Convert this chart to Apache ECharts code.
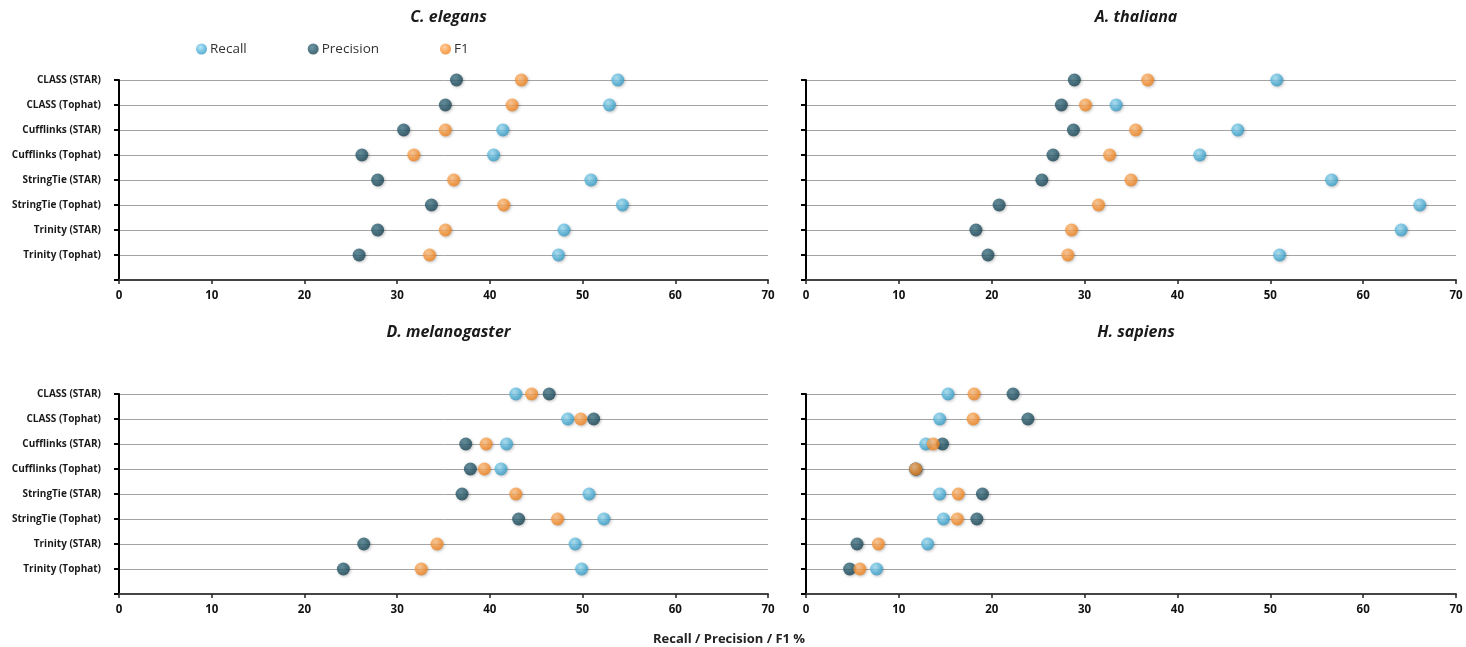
<!DOCTYPE html>
<html>
<head>
<meta charset="utf-8">
<script src="https://cdn.jsdelivr.net/npm/echarts@6/dist/echarts.min.js"></script>
<style>
html,body{margin:0;padding:0;background:#fff;}
#chart{width:1466px;height:647px;}
</style>
</head>
<body>
<div id="chart"></div>
<script>
const categories = ['CLASS (STAR)','CLASS (Tophat)','Cufflinks (STAR)','Cufflinks (Tophat)','StringTie (STAR)','StringTie (Tophat)','Trinity (STAR)','Trinity (Tophat)'];
const panelTitles = ['C. elegans','A. thaliana','D. melanogaster','H. sapiens'];
const xTicks = [0,10,20,30,40,50,60,70];

const celegansRecall    = [53.8,52.9,41.4,40.4,50.9,54.3,48.0,47.4];
const celegansPrecision = [36.4,35.2,30.7,26.2,27.9,33.7,27.9,25.9];
const celegansF1        = [43.4,42.4,35.2,31.8,36.1,41.5,35.2,33.5];

const athalianaRecall    = [50.7,33.4,46.5,42.4,56.6,66.1,64.1,51.0];
const athalianaPrecision = [28.9,27.5,28.8,26.6,25.4,20.8,18.3,19.6];
const athalianaF1        = [36.8,30.1,35.5,32.7,35.0,31.5,28.6,28.2];

const dmelRecall    = [42.8,48.4,41.8,41.2,50.7,52.3,49.2,49.9];
const dmelPrecision = [46.4,51.2,37.4,37.9,37.0,43.1,26.4,24.2];
const dmelF1        = [44.5,49.8,39.6,39.4,42.8,47.3,34.3,32.6];

const hsapRecall    = [15.3,14.4,12.9,11.8,14.4,14.8,13.1,7.6];
const hsapPrecision = [22.3,23.9,14.7,11.8,19.0,18.4,5.5,4.7];
const hsapF1        = [18.1,18.0,13.7,11.8,16.4,16.3,7.8,5.8];

const panels = [
  {recall: celegansRecall, precision: celegansPrecision, f1: celegansF1},
  {recall: athalianaRecall, precision: athalianaPrecision, f1: athalianaF1},
  {recall: dmelRecall, precision: dmelPrecision, f1: dmelF1},
  {recall: hsapRecall, precision: hsapPrecision, f1: hsapF1}
];

const n = categories.length;
function toPoints(arr){ return arr.map((v,i)=>[v, n - i]); }

function ball(light, mid, dark){
  return {type:'radial', x:0.4, y:0.35, r:0.7, colorStops:[
    {offset:0, color:light},{offset:0.6, color:mid},{offset:1, color:dark}]};
}
const styles = {
  Recall:    {color: ball('#a6e2f7','#52b3db','#3595be')},
  Precision: {color: ball('#4a7d8e','#255566','#1a4150')},
  F1:        {color: ball('#ffc48a','#f99537','#e77f1d')}
};

const grids = [
  {left:119, top:80, width:649, height:200},
  {left:806, top:80, width:650, height:200},
  {left:119, top:394, width:649, height:200},
  {left:806, top:394, width:650, height:200}
];

const xAxes = grids.map((g,i)=>({
  type:'value', gridIndex:i, min:0, max:70, interval:10,
  axisLine:{show:true, lineStyle:{color:'#444', width:2}},
  axisTick:{show:true, length:4, lineStyle:{color:'#222', width:1.5}},
  splitLine:{show:false},
  axisLabel:{color:'#111', fontSize:11.5, fontWeight:'bold', fontFamily:'Open Sans', margin:10,
    formatter:(v)=> xTicks.includes(v) ? String(v) : ''}
}));

const yAxes = grids.map((g,i)=>({
  type:'value', gridIndex:i, min:0, max:n, interval:1,
  axisLine:{show:true, onZero:false, lineStyle:{color:'#000', width:2}},
  axisTick:{show:true, length:5, lineStyle:{color:'#000', width:2}},
  splitLine:{show:true, lineStyle:{color:'#a3a3a3', width:1}},
  axisLabel:{show: i % 2 === 0, color:'#1a1a1a', fontSize:10, fontWeight:'bold', fontFamily:'Open Sans', margin:18,
    formatter:(v)=> (v>=1 && v<=n) ? categories[n - v] : ''}
}));

const series = [];
panels.forEach((p,i)=>{
  [['Recall',p.recall],['Precision',p.precision],['F1',p.f1]].forEach(([name,arr])=>{
    series.push({
      name, type:'scatter', xAxisIndex:i, yAxisIndex:i, symbol:'circle', symbolSize:13,
      data: toPoints(arr),
      itemStyle:{color: styles[name].color, shadowColor:'rgba(0,0,0,0.3)', shadowBlur:3, shadowOffsetX:1, shadowOffsetY:1},
      emphasis:{disabled:true}, z:2
    });
  });
});

const titles = panelTitles.map((t,i)=>({
  text:t, left: grids[i].left + grids[i].width/2, top: i<2 ? 4 : 319, textAlign:'center',
  textStyle:{fontSize:16, fontWeight:'bold', fontStyle:'italic', color:'#1a1a1a', fontFamily:'Open Sans'}
}));

const chart = echarts.init(document.getElementById('chart'), null, {renderer:'canvas'});
chart.setOption({
  backgroundColor:'#fff',
  animation:false,
  title: titles,
  legend:{
    data:['Recall','Precision','F1'],
    left:191, top:37, icon:'circle', itemWidth:11, itemHeight:11, itemGap:61,
    textStyle:{fontSize:13.5, color:'#333', fontFamily:'Open Sans', padding:[0,0,0,-2]}
  },
  graphic:[{type:'text', left:653, top:633,
    style:{text:'Recall / Precision / F1 %', fill:'#222', font:'bold 13px "Open Sans"'}}],
  grid: grids,
  xAxis: xAxes,
  yAxis: yAxes,
  series
});
</script>
</body>
</html>
